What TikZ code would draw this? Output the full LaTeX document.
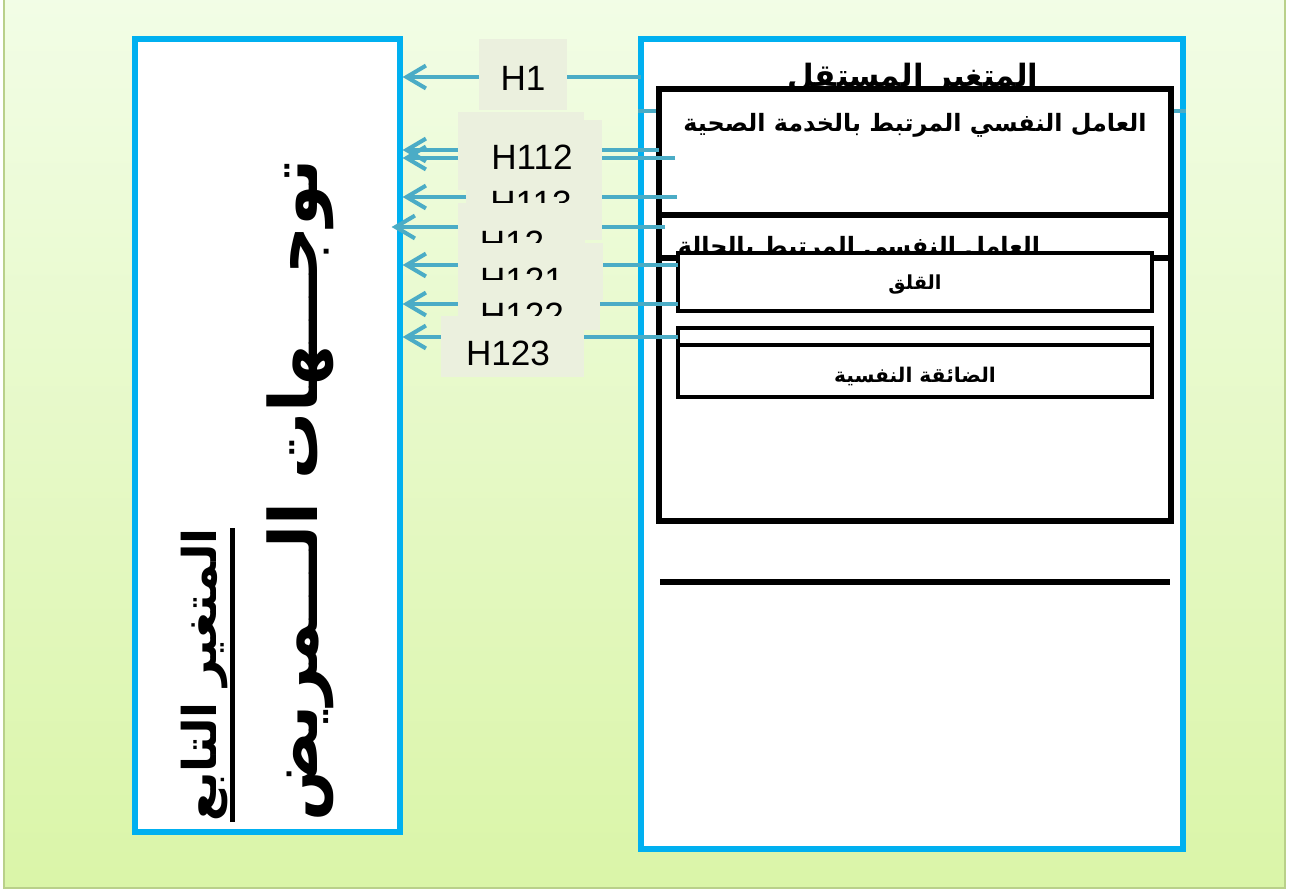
\documentclass[tikz,border=0pt]{standalone}
\usepackage{fontspec}
\setmainfont{Liberation Sans}
\newfontfamily\arabicfont[Script=Arabic]{DejaVu Sans}
\TeXXeTstate=1
\usetikzlibrary{arrows.meta, positioning, fit}

\definecolor{bgtop}{HTML}{F2FDE6}
\definecolor{bgbot}{HTML}{DAF5A8}
\definecolor{bgedge}{HTML}{B9D08A}
\definecolor{cyanbox}{HTML}{00B0F0}
\definecolor{hteal}{HTML}{4BACC6}
\definecolor{hfill}{HTML}{EBF0DE}

\newcommand{\artxt}[1]{{\arabicfont\bfseries\beginR #1\endR}}

\begin{document}
\begin{tikzpicture}[x=0.02cm, y=-0.02cm,
		bluebox/.style={draw=cyanbox, line width=3pt, fill=white, inner sep=0pt},
		blackbox/.style={draw=black, line width=2.9pt, fill=white, inner sep=0pt},
		subbox/.style={draw=black, line width=2pt, fill=white, inner sep=0pt},
		hlabel/.style={fill=hfill, inner sep=0pt},
		htext/.style={font=\fontsize{20}{24}\selectfont, inner sep=0pt},
		harrow/.style={draw=hteal, line width=2.3pt, -{Straight Barb[length=11pt, width=13pt]}},
		hline/.style={draw=hteal, line width=2.3pt},
		artext/.style={inner sep=0pt}
		]
		\useasboundingbox (0,0) rectangle (1289,893);
		\shade[top color=bgtop, bottom color=bgbot, draw=bgedge, line width=0.8pt] (4,-5) rectangle (1285,888);
		
		% Boxes
		\node[bluebox, fit={(135,39) (400,832)}] (dv) {};
		\node[bluebox, fit={(641,39) (1183,849)}] (iv) {};
		
		\node[artext, font=\fontsize{17.5}{20}\selectfont] (ivtitle) at (913,79) {\artxt{المتغير المستقل}};
		\draw[hline] (iv.west |- 0,111) -- (iv.east |- 0,111);
		
		\node[blackbox, fit={(659,89) (1171,521)}] (main) {};
		\draw[line width=2.9pt] (main.west |- 0,215) -- (main.east |- 0,215);
		\draw[line width=2.9pt] (main.west |- 0,258) -- (main.east |- 0,258);
		\node[artext, font=\fontsize{13.6}{16}\selectfont] (service) at (915,125) {\artxt{العامل النفسي المرتبط بالخدمة الصحية}};
		\node[artext, font=\fontsize{13.6}{16}\selectfont] (state) at (859,248) {\artxt{العامل النفسي المرتبط بالحالة}};
		
		\node[subbox, fit={(678,253) (1152,311)}] (anx) {};
		\node[artext, font=\fontsize{11}{13}\selectfont] at ([yshift=-0.06cm]anx.center) {\artxt{القلق}};
		\node[subbox, fit={(678,328) (1152,345)}] (sliver) {};
		\node[subbox, fit={(678,345) (1152,397)}] (dist) {};
		\node[artext, font=\fontsize{11.5}{13}\selectfont] at ([yshift=-0.1cm]dist.center) {\artxt{الضائقة النفسية}};
		
		\coordinate (rulel) at (660,582);
		\coordinate (ruler) at (1170,582);
		\draw[line width=2.9pt] (rulel) -- (ruler);
		
		% Dependent variable text
		\node[artext, rotate=90, anchor=west, font=\fontsize{38}{44}\selectfont] (dvname) at (300,822) {\artxt{توجـــهات الـــمريض}};
		\node[artext, rotate=90, anchor=west, font=\fontsize{26.5}{32}\selectfont] (dvtitle) at (204,822) {\artxt{المتغير التابع}};
		\draw[line width=2.6pt] ([xshift=0.1cm]dvtitle.south west) -- ([xshift=0.1cm]dvtitle.south east);
		
		% Arrows
		\coordinate (a1) at (641,77);
		\coordinate (a112) at (659,150);
		\coordinate (a112b) at (675,158);
		\coordinate (a113) at (677,197);
		\coordinate (a12) at (665,227);
		\coordinate (a121) at (678,265);
		\coordinate (a122) at (678,304);
		\coordinate (a123) at (678,337);
		\foreach \s in {a1, a112, a112b, a113, a121, a122, a123}
			\draw[harrow] (\s) -- (dv.east |- \s);
		\draw[harrow] (a12) -- ([xshift=-0.22cm]dv.east |- a12);
		
		% Labels
		\node[hlabel, fit={(479,39) (567,110)}] (h1box) {};
		\node[htext] (h1) at (523,78) {H1};
		\node[hlabel, fit={(458,112) (584,190)}] (h112box) {};
		\node[hlabel, fit={(466,120) (602,190)}] (h112boxb) {};
		\node[htext] (h112) at (532,157) {H112};
		\node[hlabel, fit={(466,175) (602,240)}] (h113box) {};
		\node[htext] (h113) at (531,203) {H113};
		\node[hlabel, fit={(458,203) (585,270)}] (h12box) {};
		\node[htext] (h12) at (512,243) {H12};
		\node[hlabel, fit={(458,243) (603,300)}] (h121box) {};
		\node[htext] (h121) at (522,280) {H121};
		\node[hlabel, fit={(458,280) (600,330)}] (h122box) {};
		\node[htext] (h122) at (522,315) {H122};
		\node[hlabel, fit={(441,316) (584,377)}] (h123box) {};
		\node[htext] (h123) at (508,353) {H123};
		
	\end{tikzpicture}
\end{document}
